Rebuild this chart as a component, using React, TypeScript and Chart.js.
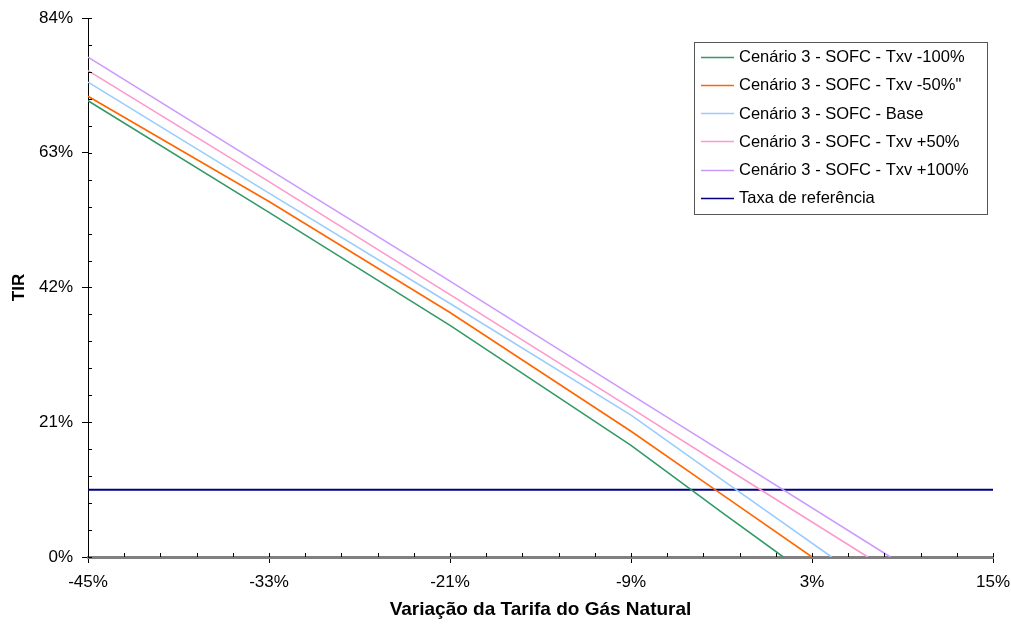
import React, { useEffect, useRef } from "react";
import { Chart, registerables } from "chart.js";

Chart.register(...registerables);

const seriesLabels = [
  "Cenário 3 - SOFC - Txv -100%",
  "Cenário 3 - SOFC - Txv -50%\"",
  "Cenário 3 - SOFC - Base",
  "Cenário 3 - SOFC - Txv +50%",
  "Cenário 3 - SOFC - Txv +100%",
  "Taxa de referência",
];
const seriesColors = ["#339966", "#FF6600", "#99CCFF", "#FF99CC", "#CC99FF", "#000080"];

const xTxvM100 = [-45, -33, -21, -9, -3, 1.1];
const yTxvM100 = [71.1, 53.7, 36.1, 17.4, 7.0, 0];
const xTxvM50 = [-45, -33, -21, -9, -3, 3.0];
const yTxvM50 = [71.8, 55.4, 38.1, 19.6, 9.8, 0];
const xBase = [-45, -33, -21, -9, -3, 4.3];
const yBase = [74.0, 56.7, 39.5, 22.1, 12.1, 0];
const xTxvP50 = [-45, -33, -21, -9, -3, 6.7];
const yTxvP50 = [75.8, 58.5, 40.9, 23.2, 14.3, 0];
const xTxvP100 = [-45, -33, -21, -9, -3, 8.2];
const yTxvP100 = [77.9, 60.4, 43.0, 25.3, 16.5, 0];
const xRef = [-45, 15];
const yRef = [10.5, 10.5];

const xTicks = [-45, -33, -21, -9, 3, 15];
const yTicks = [0, 21, 42, 63, 84];
const xMinorStep = 2.4;
const yMinorStep = 4.2;

const FONT = "'Liberation Sans', Arial, sans-serif";

function pts(xs: number[], ys: number[]) {
  return xs.map((x, i) => ({ x, y: ys[i] }));
}

const ticksPlugin = {
  id: "minorTicks",
  afterDatasetsDraw(chart: any) {
    const { ctx, chartArea, scales } = chart;
    const xs = scales.x;
    const ys = scales.y;
    ctx.save();
    ctx.strokeStyle = "#000";
    ctx.lineWidth = 1;
    for (let v = 0; v <= 84.0001; v += yMinorStep) {
      const py = Math.round(ys.getPixelForValue(v)) + 0.5;
      ctx.beginPath();
      ctx.moveTo(chartArea.left, py);
      ctx.lineTo(chartArea.left + 4, py);
      ctx.stroke();
    }
    for (let v = -45; v <= 15.0001; v += xMinorStep) {
      const px = Math.round(xs.getPixelForValue(v)) + 0.5;
      ctx.beginPath();
      ctx.moveTo(px, chartArea.bottom);
      ctx.lineTo(px, chartArea.bottom - 4);
      ctx.stroke();
    }
    ctx.restore();
  },
};

const legendPlugin = {
  id: "boxLegend",
  afterDraw(chart: any) {
    const { ctx } = chart;
    const left = 694, top = 42, w = 293, h = 172;
    ctx.save();
    ctx.fillStyle = "#fff";
    ctx.fillRect(left, top, w, h);
    ctx.strokeStyle = "#555";
    ctx.lineWidth = 1;
    ctx.strokeRect(left + 0.5, top + 0.5, w, h);
    ctx.font = `16.5px ${FONT}`;
    ctx.textBaseline = "middle";
    chart.data.datasets.forEach((ds: any, i: number) => {
      const cy = 56.7 + i * 28.2;
      ctx.strokeStyle = ds.borderColor;
      ctx.lineWidth = 1.5;
      ctx.beginPath();
      ctx.moveTo(701, Math.round(cy) + 0.5);
      ctx.lineTo(734, Math.round(cy) + 0.5);
      ctx.stroke();
      ctx.fillStyle = "#000";
      ctx.fillText(ds.label, 739, cy + 1);
    });
    ctx.restore();
  },
};

export default function App() {
  const ref = useRef<HTMLCanvasElement>(null);
  useEffect(() => {
    if (!ref.current) return;
    const allX = [xTxvM100, xTxvM50, xBase, xTxvP50, xTxvP100, xRef];
    const allY = [yTxvM100, yTxvM50, yBase, yTxvP50, yTxvP100, yRef];
    const chart = new Chart(ref.current, {
      type: "scatter",
      data: {
        datasets: seriesLabels.map((label, i) => ({
          label,
          data: pts(allX[i], allY[i]),
          showLine: true,
          borderColor: seriesColors[i],
          backgroundColor: seriesColors[i],
          borderWidth: i === 5 ? 2 : 1.6,
          pointRadius: 0,
          pointHoverRadius: 0,
          tension: 0,
        })),
      },
      options: {
        responsive: false,
        animation: false,
        devicePixelRatio: 1,
        layout: { padding: { top: 18, right: 18, left: 0, bottom: 0 } },
        plugins: {
          legend: { display: false },
          tooltip: { enabled: false },
        },
        scales: {
          x: {
            type: "linear",
            min: -45,
            max: 15,
            afterBuildTicks: (s: any) => {
              s.ticks = xTicks.map((v) => ({ value: v }));
            },
            afterFit: (s: any) => {
              s.height = 68;
              s.paddingRight = 0;
              s.paddingLeft = 0;
            },
            ticks: {
              color: "#000",
              font: { family: FONT, size: 17 },
              padding: 9,
              maxRotation: 0,
              callback: (v: any) => `${v}%`,
            },
            grid: {
              drawOnChartArea: false,
              drawTicks: true,
              tickLength: 6,
              color: "#000",
            },
            border: { display: true, color: "#808080", width: 3 },
            title: {
              display: true,
              text: "Variação da Tarifa do Gás Natural",
              color: "#000",
              font: { family: FONT, size: 19, weight: "bold" },
              padding: { top: 0, bottom: 4 },
            },
          },
          y: {
            type: "linear",
            min: 0,
            max: 84,
            afterBuildTicks: (s: any) => {
              s.ticks = yTicks.map((v) => ({ value: v }));
            },
            afterFit: (s: any) => {
              s.width = 88;
              s.paddingTop = 0;
              s.paddingBottom = 0;
            },
            ticks: {
              color: "#000",
              font: { family: FONT, size: 17 },
              padding: 9,
              callback: (v: any) => `${v}%`,
            },
            grid: {
              drawOnChartArea: false,
              drawTicks: true,
              tickLength: 6,
              color: "#000",
            },
            border: { display: true, color: "#000", width: 1 },
            title: {
              display: true,
              text: "TIR",
              color: "#000",
              font: { family: FONT, size: 17, weight: "bold" },
              padding: { top: 9, bottom: 0 },
            },
          },
        },
      },
      plugins: [ticksPlugin, legendPlugin],
    });
    return () => chart.destroy();
  }, []);
  return (
    <div style={{ position: "absolute", left: 0, top: 0, width: 1011, height: 625, background: "#fff" }}>
      <canvas ref={ref} width={1011} height={625} />
    </div>
  );
}
